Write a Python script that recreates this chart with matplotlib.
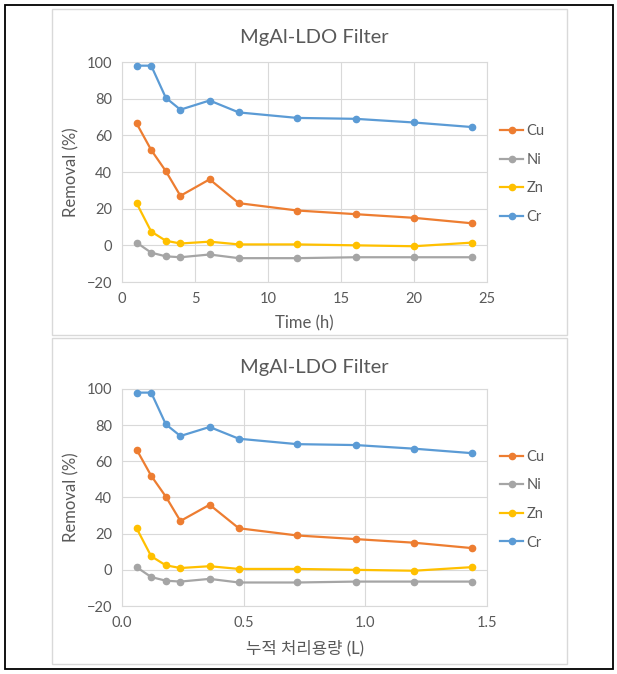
# MgAl-LDO filter removal curves, two Excel-style panels stacked
import matplotlib.pyplot as plt
from matplotlib.patches import Rectangle

# ------------------ Data ------------------
time_h = [1, 2, 3, 4, 6, 8, 12, 16, 20, 24]
volume_L = [0.06, 0.12, 0.18, 0.24, 0.36, 0.48, 0.72, 0.96, 1.20, 1.44]

cu = [66.5, 52, 40.5, 27, 36, 23, 19, 17, 15, 12]
ni = [1.5, -4, -6, -6.5, -5, -7, -7, -6.5, -6.5, -6.5]
zn = [23, 7.5, 2.5, 1, 2, 0.5, 0.5, 0, -0.5, 1.5]
cr = [98, 98, 80.5, 74, 79, 72.5, 69.5, 69, 67, 64.5]

series_names = ["Cu", "Ni", "Zn", "Cr"]
series_colors = ["#ED7D31", "#A5A5A5", "#FFC000", "#5B9BD5"]

plt.rcParams['font.family'] = ['Lato', 'Noto Sans CJK KR', 'DejaVu Sans']

W, H = 617, 674
fig = plt.figure(figsize=(W / 100, H / 100), dpi=100)


def fx(px):
    return px / W


def fy(py):
    return 1 - py / H


# outer frame and panel boxes
fig.patches.append(Rectangle((fx(5), fy(669)), fx(608), 664 / H, transform=fig.transFigure,
                             fill=False, edgecolor='black', linewidth=1.3))
for top, bot in [(9, 335), (338, 664)]:
    fig.patches.append(Rectangle((fx(52), fy(bot)), fx(515), (bot - top) / H, transform=fig.transFigure,
                                 fill=False, edgecolor='#D9D9D9', linewidth=1.0))


def panel(ax_top, ax_bot, xdata, xlim, xticks, xticklabels, xlabel, title_y):
    ax = fig.add_axes([fx(122), fy(ax_bot), fx(487 - 122), (ax_bot - ax_top) / H])
    for name, col, vals in zip(series_names, series_colors, [cu, ni, zn, cr]):
        ax.plot(xdata, vals, color=col, linewidth=1.6, marker='o', markersize=4.5,
                label=name, zorder=3)
    ax.set_xlim(*xlim)
    ax.set_ylim(-20, 100)
    ax.set_yticks(range(-20, 101, 20))
    ax.set_xticks(xticks)
    ax.set_xticklabels(xticklabels)
    ax.grid(True, color='#D9D9D9', linewidth=0.8)
    for s in ax.spines.values():
        s.set_color('#D9D9D9')
        s.set_linewidth(0.8)
    ax.tick_params(length=0, labelsize=10.5, colors='#595959', pad=7)
    ax.set_ylabel("Removal (%)", fontsize=12, color='#595959', labelpad=5)
    ax.set_xlabel(xlabel, fontsize=12, color='#595959', labelpad=7)
    fig.text(fx(314), fy(title_y), "MgAl-LDO Filter", fontsize=14.5, color='#595959',
             ha='center', va='center')
    ax.legend(loc='center left', bbox_to_anchor=(1.02, 0.49), frameon=False,
              fontsize=10.5, labelcolor='#595959', handlelength=1.6, handletextpad=0.2,
              labelspacing=1.0, borderaxespad=0)
    return ax


panel(62, 282, time_h, (0, 25), [0, 5, 10, 15, 20, 25],
      ["0", "5", "10", "15", "20", "25"], "Time (h)", 37)
panel(389, 606, volume_L, (0, 1.5), [0, 0.5, 1.0, 1.5],
      ["0.0", "0.5", "1.0", "1.5"], "누적 처리용량 (L)", 367)

fig.savefig("out.png", dpi=100)
